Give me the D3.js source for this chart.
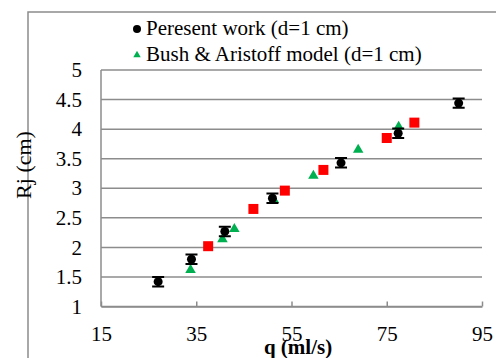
<!DOCTYPE html>
<html>
<head>
<meta charset="utf-8">
<script src="https://cdn.jsdelivr.net/npm/d3@7"></script>
<style>
  body { margin: 0; background: #fff; }
  svg text { font-family: "Liberation Serif", "Times New Roman", serif; fill: #000; }
</style>
</head>
<body>
<script>
// present work (black, with error bars)
const presentQ   = [27, 34, 41, 51, 65.4, 77.4, 90.1];
const presentRj  = [1.42, 1.80, 2.27, 2.83, 3.43, 3.93, 4.44];
const presentErr = [0.08, 0.08, 0.08, 0.08, 0.08, 0.08, 0.08];

// Bush & Aristoff model (green triangles)
const bushQ  = [33.8, 40.5, 43, 51.3, 59.6, 69, 77.5];
const bushRj = [1.62, 2.14, 2.31, 2.80, 3.21, 3.65, 4.04];

// unlabelled red series
const redQ  = [37.5, 47, 53.6, 61.7, 75, 80.8];
const redRj = [2.02, 2.65, 2.96, 3.31, 3.85, 4.11];

const xTicks = [15, 35, 55, 75, 95];
const yTicks = [1, 1.5, 2, 2.5, 3, 3.5, 4, 4.5, 5];

const legendLabels = ['Peresent work (d=1 cm)', 'Bush & Aristoff model (d=1 cm)'];

const width = 496, height = 358;
const plot = {left: 101, right: 482, top: 70, bottom: 306.5};
const grey = '#8c8c8c';
const serif = '"Liberation Serif", "Times New Roman", serif';

const svg = d3.select('body').append('svg')
    .attr('width', width)
    .attr('height', height);

// outer chart frame (only top and left edges are visible)
svg.append('path')
    .attr('d', 'M28,' + height + 'V12H' + width)
    .attr('fill', 'none')
    .attr('stroke', grey)
    .attr('stroke-width', 1.5);

const x = d3.scaleLinear().domain([15, 95]).range([plot.left, plot.right]);
const y = d3.scaleLinear().domain([1, 5]).range([plot.bottom, plot.top]);

// horizontal gridlines
svg.append('g').selectAll('line')
    .data(yTicks)
    .enter().append('line')
    .attr('x1', plot.left)
    .attr('x2', plot.right)
    .attr('y1', d => y(d))
    .attr('y2', d => y(d))
    .attr('stroke', grey)
    .attr('stroke-width', 1.5);

// left axis line
svg.append('line')
    .attr('x1', plot.left).attr('x2', plot.left)
    .attr('y1', plot.top).attr('y2', plot.bottom)
    .attr('stroke', grey)
    .attr('stroke-width', 1.5);

// x axis: inside ticks, labels below
const xAxis = svg.append('g')
    .attr('transform', 'translate(0,' + plot.bottom + ')')
    .call(d3.axisBottom(x).tickValues(xTicks).tickFormat(d => d)
        .tickSizeInner(-5).tickSizeOuter(0).tickPadding(20));
xAxis.attr('font-family', null);
xAxis.select('.domain').attr('stroke', grey).attr('stroke-width', 1.5);
xAxis.selectAll('.tick line').attr('stroke', grey).attr('stroke-width', 1.5);
xAxis.selectAll('.tick text')
    .style('font-family', serif)
    .style('font-size', '21px')
    .attr('dy', '0.71em');

// y axis labels
const yAxis = svg.append('g')
    .attr('transform', 'translate(' + plot.left + ',0)')
    .call(d3.axisLeft(y).tickValues(yTicks).tickFormat(d => d).tickSize(0).tickPadding(19));
yAxis.attr('font-family', null);
yAxis.select('.domain').remove();
yAxis.selectAll('.tick text')
    .style('font-family', serif)
    .style('font-size', '21px');

// axis titles
svg.append('text')
    .attr('x', 298)
    .attr('y', 354)
    .attr('text-anchor', 'middle')
    .attr('font-size', 21)
    .attr('font-weight', 'bold')
    .text('q (ml/s)');

svg.append('text')
    .attr('transform', 'translate(31,165) rotate(-90)')
    .attr('text-anchor', 'middle')
    .attr('font-size', 22)
    .text('Rj (cm)');

// red squares
svg.append('g').selectAll('rect')
    .data(d3.zip(redQ, redRj))
    .enter().append('rect')
    .attr('x', d => x(d[0]) - 5)
    .attr('y', d => y(d[1]) - 5)
    .attr('width', 10)
    .attr('height', 10)
    .attr('fill', '#ff0000');

// green triangles
svg.append('g').selectAll('path')
    .data(d3.zip(bushQ, bushRj))
    .enter().append('path')
    .attr('d', d3.symbol(d3.symbolTriangle, 48))
    .attr('transform', d => 'translate(' + x(d[0]) + ',' + y(d[1]) + ')')
    .attr('fill', '#00b050');

// black points with error bars
const present = svg.append('g').selectAll('g')
    .data(d3.zip(presentQ, presentRj, presentErr))
    .enter().append('g');

present.append('path')
    .attr('d', d => {
        const cx = x(d[0]), y0 = y(d[1] - d[2]), y1 = y(d[1] + d[2]);
        return 'M' + cx + ',' + y0 + 'V' + y1 +
               'M' + (cx - 6) + ',' + y0 + 'H' + (cx + 6) +
               'M' + (cx - 6) + ',' + y1 + 'H' + (cx + 6);
    })
    .attr('stroke', '#000')
    .attr('stroke-width', 2)
    .attr('fill', 'none');

present.append('circle')
    .attr('cx', d => x(d[0]))
    .attr('cy', d => y(d[1]))
    .attr('r', 4.5)
    .attr('fill', '#000');

// legend
const legend = svg.append('g');
legend.append('circle')
    .attr('cx', 137).attr('cy', 29).attr('r', 4)
    .attr('fill', '#000');
legend.append('path')
    .attr('d', d3.symbol(d3.symbolTriangle, 24))
    .attr('transform', 'translate(137,55)')
    .attr('fill', '#00b050');
legend.selectAll('text')
    .data(legendLabels)
    .enter().append('text')
    .attr('x', 146)
    .attr('y', (d, i) => 35 + i * 26)
    .attr('font-size', 21)
    .text(d => d);
</script>
</body>
</html>
